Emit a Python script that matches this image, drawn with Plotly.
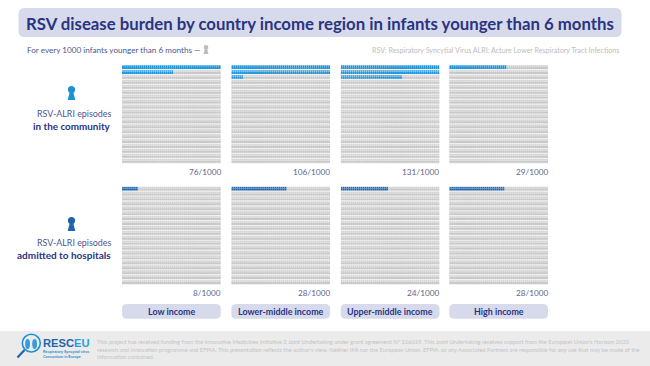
import plotly.graph_objects as go

W, H = 650, 366
categories = ["Low income", "Lower-middle income", "Upper-middle income", "High income"]
community = [76, 106, 131, 29]
hospital = [8, 28, 24, 28]
total = 1000
cols = 50
rows_n = 20

panel_left = [122, 231.3, 340.7, 449.2]
panel_w = 98.8
tops = [(65, 163.6), (186.5, 284.8)]
label_y = [172, 293]
BLUE_A = "#2196dc"
BLUE_B = "#2466ad"
GREY_BODY = "#c6c6c6"
GREY_HEAD = "#d2d2d2"
NAVY = "#2a3482"
FONT = "Lato"

def px(x): return x / W
def py(y): return 1 - y / H

fig = go.Figure()
shapes, ann = [], []

def rrect(x0, y0, x1, y1, r, color):
    a, b, c, d = px(x0), py(y0), px(x1), py(y1)
    rx, ry = r / W, r / H
    path = (f"M{a+rx},{b} L{c-rx},{b} Q{c},{b} {c},{b-ry} L{c},{d+ry} Q{c},{d} {c-rx},{d} "
            f"L{a+rx},{d} Q{a},{d} {a},{d+ry} L{a},{b-ry} Q{a},{b} {a+rx},{b} Z")
    shapes.append(dict(type="path", xref="paper", yref="paper", path=path,
                       fillcolor=color, line=dict(width=0), layer="below"))

def text(x, y, s, size, color, anchor="left", family=FONT):
    ann.append(dict(x=px(x), y=py(y), xref="paper", yref="paper", text=s, showarrow=False,
                    xanchor=anchor, yanchor="middle", align=anchor,
                    font=dict(size=size, color=color, family=family), borderpad=0, borderwidth=0))

def person(cx, top, h, color):
    k = h / 14.0
    r = 3.6 * k
    cy = top + r
    pts = [(cx - 1.7 * k, cy + 2.2 * k), (cx - 3.8 * k, top + h), (cx + 3.8 * k, top + h), (cx + 1.7 * k, cy + 2.2 * k)]
    d = "M" + " L".join(f"{px(a)},{py(b)}" for a, b in pts) + " Z"
    shapes.append(dict(type="circle", xref="paper", yref="paper", x0=px(cx - r), x1=px(cx + r),
                       y0=py(cy - r), y1=py(cy + r), fillcolor=color, line=dict(width=0)))
    shapes.append(dict(type="path", xref="paper", yref="paper", path=d, fillcolor=color, line=dict(width=0)))

# Panels
n = 0
for s, (series, blue, (t, b)) in enumerate(zip([community, hospital], [BLUE_A, BLUE_B], tops)):
    for c, val in enumerate(series):
        n += 1
        xa, ya = ("x", "y") if n == 1 else (f"x{n}", f"y{n}")
        xs = [i % cols for i in range(total)]
        ys = [i // cols for i in range(total)]
        body_col = [blue if i < val else GREY_BODY for i in range(total)]
        head_col = [blue if i < val else GREY_HEAD for i in range(total)]
        fig.add_trace(go.Scatter(x=xs, y=[v + 0.12 for v in ys], mode="markers", xaxis=xa, yaxis=ya,
                                 hoverinfo="skip", showlegend=False,
                                 marker=dict(symbol="square", size=1.9, color=body_col, line=dict(width=0))))
        fig.add_trace(go.Scatter(x=xs, y=[v - 0.28 for v in ys], mode="markers", xaxis=xa, yaxis=ya,
                                 hoverinfo="skip", showlegend=False,
                                 marker=dict(symbol="square", size=1.6, color=head_col, line=dict(width=0))))
        ax = dict(domain=[px(panel_left[c]), px(panel_left[c] + panel_w)], range=[-0.5, cols - 0.5],
                  visible=False, fixedrange=True)
        ay = dict(domain=[py(b), py(t)], range=[rows_n - 0.5, -0.5], visible=False, fixedrange=True)
        fig.update_layout(**{("xaxis" if n == 1 else f"xaxis{n}"): ax, ("yaxis" if n == 1 else f"yaxis{n}"): ay})
        text(panel_left[c] + panel_w, label_y[s], f"{val}/{total}", 8.2, "#5d6488", "right")

# Header
rrect(18.5, 8, 296.5 + 325, 37, 6, "#d7daeb")
text(26, 23.5, "<b>RSV disease burden by country income region in infants younger than 6 months</b>", 16.75, NAVY)
text(26.5, 50, "For every 1000 infants younger than 6 months —", 8.15, "#4d568f")
person(206, 45, 9, "#bdbdbd")
text(619, 50, "RSV: Respiratory Syncytial Virus ALRI: Acture Lower Respiratory Tract Infections", 7.1, "#bcbcbc", "right")

# Row labels
person(71.5, 86, 14, "#2090d4")
text(110.5, 113.5, "RSV-ALRI episodes", 8.9, "#4d568f", "right")
text(110.5, 125.5, "<b>in the community</b>", 9.9, NAVY, "right")
person(71.5, 217, 14, "#1f65ad")
text(110.5, 242.5, "RSV-ALRI episodes", 8.9, "#4d568f", "right")
text(110.5, 254.5, "<b>admitted to hospitals</b>", 10, NAVY, "right")

# Category pills
for c, name in enumerate(categories):
    rrect(panel_left[c], 304, panel_left[c] + panel_w, 318.7, 5, "#d7daeb")
    text(panel_left[c] + panel_w / 2, 311.5, f"<b>{name}</b>", 8.9, NAVY, "center")

# Footer
shapes.append(dict(type="rect", xref="paper", yref="paper", x0=0, x1=1, y0=0, y1=py(331),
                   fillcolor="#ebebeb", line=dict(width=0), layer="below"))
footer = [
    "This project has received funding from the Innovative Medicines Initiative 2 Joint Undertaking under grant agreement Nº 116019. This Joint Undertaking receives support from the European Union's Horizon 2020",
    "research and innovation programme and EFPIA. This presentation reflects the author's view. Neither IMI nor the European Union, EFPIA, or any Associated Partners are responsible for any use that may be made of the",
    "information contained.",
]
for i, line in enumerate(footer):
    text(97, 341.3 + 7.7 * i, line, 5.75, "#c4c4c4")

# Logo
shapes.append(dict(type="circle", xref="paper", yref="paper", x0=px(22.3), x1=px(40.3), y0=py(352), y1=py(334.2),
                   fillcolor="rgba(0,0,0,0)", line=dict(width=1.6, color="#2090d4")))
shapes.append(dict(type="line", xref="paper", yref="paper", x0=px(24.5), x1=px(17.5), y0=py(350), y1=py(357.5),
                   line=dict(width=2.2, color="#1f65ad")))
for a, b in [(27.6, 0), (34.6, 0)]:
    shapes.append(dict(type="circle", xref="paper", yref="paper", x0=px(a - 2.4), x1=px(a + 2.4), y0=py(349), y1=py(339),
                       fillcolor="#3b9ad8", line=dict(width=0)))
text(42.5, 343, "<b><span style='color:#1f65ad'>RESC</span><span style='color:#27a0de'>EU</span></b>", 11.2, "#1f65ad", family="Liberation Sans")
text(43, 352.3, "<b>Respiratory Syncytial virus</b>", 3.6, "#2a8fd0", family="Liberation Sans")
text(43, 356.7, "<b>Consortium in Europe</b>", 3.6, "#2a8fd0", family="Liberation Sans")

fig.update_layout(width=W, height=H, margin=dict(l=0, r=0, t=0, b=0), paper_bgcolor="white", plot_bgcolor="#f0f0f0",
                  shapes=shapes, annotations=ann, showlegend=False, autosize=False)
fig.write_html("out.html", config=dict(displayModeBar=False, responsive=False),
               post_script="document.body.style.margin='0';document.body.style.overflow='hidden';")
